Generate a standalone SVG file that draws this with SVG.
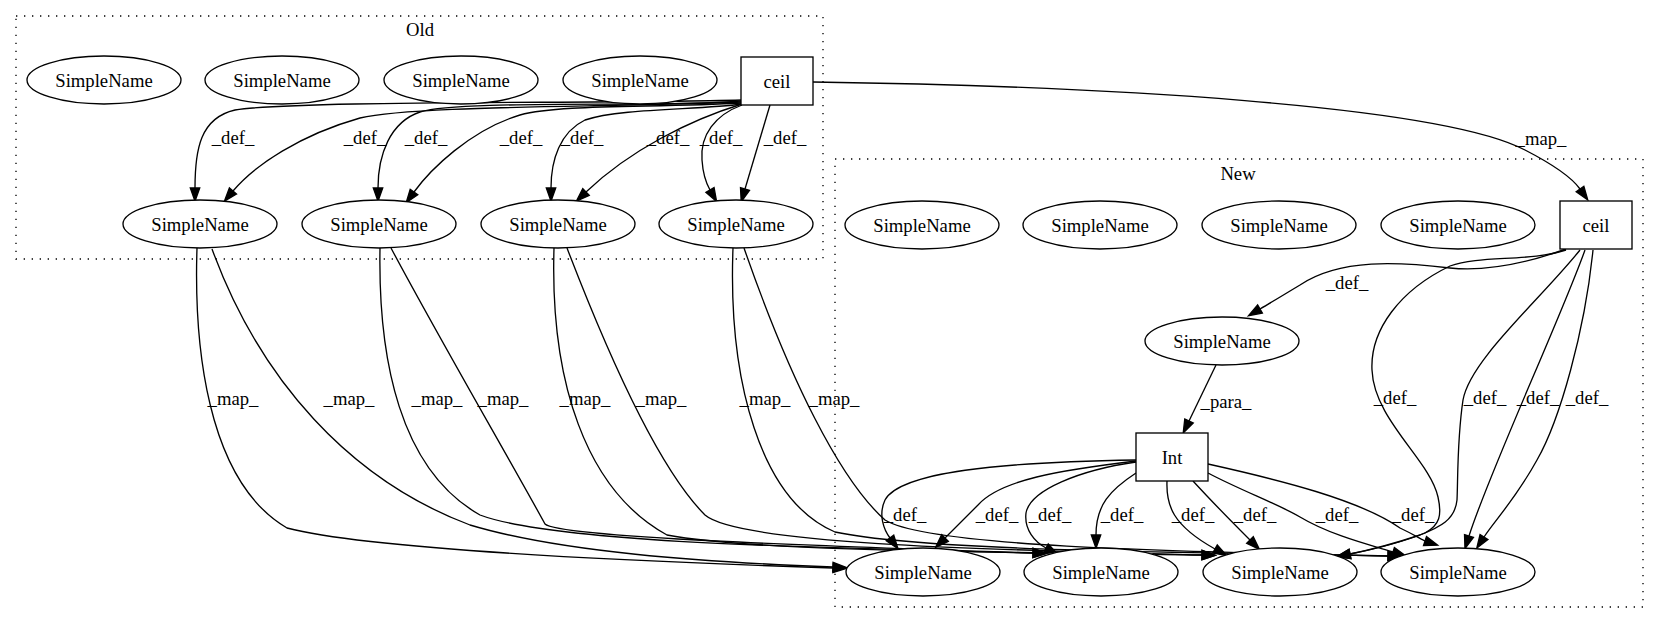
<svg xmlns="http://www.w3.org/2000/svg" width="1659" height="624" viewBox="0 0 1659 624">
<style>
text{font-family:"Liberation Serif","Times New Roman",serif;font-size:18.67px;text-anchor:middle;fill:#000}
.cl{fill:none;stroke:#000;stroke-width:1.33;stroke-dasharray:1.33,6.67}
.nd ellipse,.nd rect{fill:#fff;stroke:#000;stroke-width:1.33}
.e path{fill:none;stroke:#000;stroke-width:1.33;marker-end:url(#ah)}
</style>
<defs>
<marker id="ah" markerUnits="userSpaceOnUse" markerWidth="14" markerHeight="10" refX="0" refY="5" orient="auto" overflow="visible">
<path d="M0,0.3 L13.3,5 L0,9.7 z" fill="#000" stroke="#000" stroke-width="1.33"/>
</marker>
</defs>
<rect width="1659" height="624" fill="#fff"/>
<g id="cluster_old">
<rect class="cl" x="16" y="16" width="807" height="243"/>
<text x="420" y="36">Old</text>
</g>
<g id="cluster_new">
<rect class="cl" x="835" y="159" width="808" height="448"/>
<text x="1238" y="180">New</text>
</g>
<g class="e" id="edges">
<path d="M742,100 C600,104 300,100 235,110 C200,118 195,150 195,188"/>
<path d="M742,101 C640,108 420,104 360,118 C300,135 255,165 233,191"/>
<path d="M742,102 C640,107 460,100 420,112 C390,122 378,155 378,188"/>
<path d="M742,103 C650,108 560,104 520,115 C470,130 430,170 414,192"/>
<path d="M742,104 C700,110 620,108 585,120 C560,132 551,160 551,188"/>
<path d="M742,104 C690,120 630,150 586,192"/>
<path d="M742,105 C715,115 700,135 702,160 C703,175 706,183 710,190"/>
<path d="M770,105 L745,189"/>
<path d="M813,82 C1100,86 1440,105 1525,150 C1560,168 1575,182 1580,189"/>
<path d="M197,248 C194,340 205,480 287,528 C380,552 680,563 833,568"/>
<path d="M212,249 C260,380 350,480 470,525 C560,552 700,562 833,567"/>
<path d="M380,248 C378,360 400,470 480,515 C560,545 850,548 1033,553"/>
<path d="M391,248 C440,340 510,460 545,524 C560,538 850,547 1033,553"/>
<path d="M554,248 C550,380 585,490 667,535 C760,552 1000,552 1202,555"/>
<path d="M567,248 C610,360 660,470 705,515 C740,545 1000,550 1202,555"/>
<path d="M733,248 C728,380 760,500 835,532 C930,552 1200,552 1388,556"/>
<path d="M744,248 C790,380 840,480 885,520 C930,548 1200,552 1388,556"/>
<path d="M1566,249 C1530,262 1490,272 1450,268 C1400,262 1340,258 1300,285 C1285,294 1272,302 1260,309"/>
<path d="M1566,250 C1530,262 1480,255 1450,266 C1400,290 1370,330 1372,370 C1374,420 1430,460 1438,497 C1442,515 1440,525 1425,533 C1400,543 1370,550 1350,554"/>
<path d="M1580,250 C1540,300 1470,360 1463,400 C1457,440 1458,480 1457,500 C1455,520 1440,527 1420,535 C1390,545 1365,551 1350,554"/>
<path d="M1585,250 C1560,320 1490,470 1469,536"/>
<path d="M1593,250 C1585,330 1560,420 1537,460 C1515,500 1495,520 1484,537"/>
<path d="M1216,365 L1189,421"/>
<path d="M1136,460 C1000,462 900,472 885,500 C878,515 884,530 890,538"/>
<path d="M1136,461 C1060,470 1000,480 978,505 C965,518 955,528 945,538"/>
<path d="M1136,462 C1080,470 1030,490 1026,513 C1024,530 1035,542 1046,548"/>
<path d="M1136,473 C1110,490 1096,505 1096,535"/>
<path d="M1167,481 C1166,505 1172,525 1215,549"/>
<path d="M1193,481 C1215,505 1235,525 1250,540"/>
<path d="M1208,473 C1240,490 1280,505 1300,517 C1330,535 1370,545 1393,552"/>
<path d="M1208,464 C1280,480 1360,500 1400,528 C1415,535 1422,540 1425,541"/>
<text x="233" y="144">_def_</text>
<text x="365" y="144">_def_</text>
<text x="426" y="144">_def_</text>
<text x="521" y="144">_def_</text>
<text x="582" y="144">_def_</text>
<text x="668" y="144">_def_</text>
<text x="721" y="144">_def_</text>
<text x="785" y="144">_def_</text>
<text x="1541" y="145">_map_</text>
<text x="233" y="405">_map_</text>
<text x="349" y="405">_map_</text>
<text x="437" y="405">_map_</text>
<text x="503" y="405">_map_</text>
<text x="585" y="405">_map_</text>
<text x="661" y="405">_map_</text>
<text x="765" y="405">_map_</text>
<text x="834" y="405">_map_</text>
<text x="1347" y="289">_def_</text>
<text x="1395" y="404">_def_</text>
<text x="1485" y="404">_def_</text>
<text x="1538" y="404">_def_</text>
<text x="1587" y="404">_def_</text>
<text x="1226" y="408">_para_</text>
<text x="905" y="521">_def_</text>
<text x="997" y="521">_def_</text>
<text x="1050" y="521">_def_</text>
<text x="1122" y="521">_def_</text>
<text x="1193" y="521">_def_</text>
<text x="1255" y="521">_def_</text>
<text x="1337" y="521">_def_</text>
<text x="1413" y="521">_def_</text>
</g>
<g class="nd" id="old_sn_1"><ellipse cx="104" cy="80" rx="77" ry="24"/><text x="104" y="86.5">SimpleName</text></g>
<g class="nd" id="old_sn_2"><ellipse cx="282" cy="80" rx="77" ry="24"/><text x="282" y="86.5">SimpleName</text></g>
<g class="nd" id="old_sn_3"><ellipse cx="461" cy="80" rx="77" ry="24"/><text x="461" y="86.5">SimpleName</text></g>
<g class="nd" id="old_sn_4"><ellipse cx="640" cy="80" rx="77" ry="24"/><text x="640" y="86.5">SimpleName</text></g>
<g class="nd" id="old_ceil"><rect x="741" y="57" width="72" height="48"/><text x="777" y="87.5">ceil</text></g>
<g class="nd" id="old_sn_5"><ellipse cx="200" cy="224" rx="77" ry="24"/><text x="200" y="230.5">SimpleName</text></g>
<g class="nd" id="old_sn_6"><ellipse cx="379" cy="224" rx="77" ry="24"/><text x="379" y="230.5">SimpleName</text></g>
<g class="nd" id="old_sn_7"><ellipse cx="558" cy="224" rx="77" ry="24"/><text x="558" y="230.5">SimpleName</text></g>
<g class="nd" id="old_sn_8"><ellipse cx="736" cy="224" rx="77" ry="24"/><text x="736" y="230.5">SimpleName</text></g>
<g class="nd" id="new_sn_1"><ellipse cx="922" cy="225" rx="77" ry="24"/><text x="922" y="231.5">SimpleName</text></g>
<g class="nd" id="new_sn_2"><ellipse cx="1100" cy="225" rx="77" ry="24"/><text x="1100" y="231.5">SimpleName</text></g>
<g class="nd" id="new_sn_3"><ellipse cx="1279" cy="225" rx="77" ry="24"/><text x="1279" y="231.5">SimpleName</text></g>
<g class="nd" id="new_sn_4"><ellipse cx="1458" cy="225" rx="77" ry="24"/><text x="1458" y="231.5">SimpleName</text></g>
<g class="nd" id="new_ceil"><rect x="1560" y="201" width="72" height="48"/><text x="1596" y="231.5">ceil</text></g>
<g class="nd" id="new_sn_mid"><ellipse cx="1222" cy="341" rx="77" ry="24"/><text x="1222" y="347.5">SimpleName</text></g>
<g class="nd" id="new_int"><rect x="1136" y="433" width="72" height="48"/><text x="1172" y="463.5">Int</text></g>
<g class="nd" id="new_sn_b1"><ellipse cx="923" cy="572" rx="77" ry="24"/><text x="923" y="578.5">SimpleName</text></g>
<g class="nd" id="new_sn_b2"><ellipse cx="1101" cy="572" rx="77" ry="24"/><text x="1101" y="578.5">SimpleName</text></g>
<g class="nd" id="new_sn_b3"><ellipse cx="1280" cy="572" rx="77" ry="24"/><text x="1280" y="578.5">SimpleName</text></g>
<g class="nd" id="new_sn_b4"><ellipse cx="1458" cy="572" rx="77" ry="24"/><text x="1458" y="578.5">SimpleName</text></g>
</svg>
